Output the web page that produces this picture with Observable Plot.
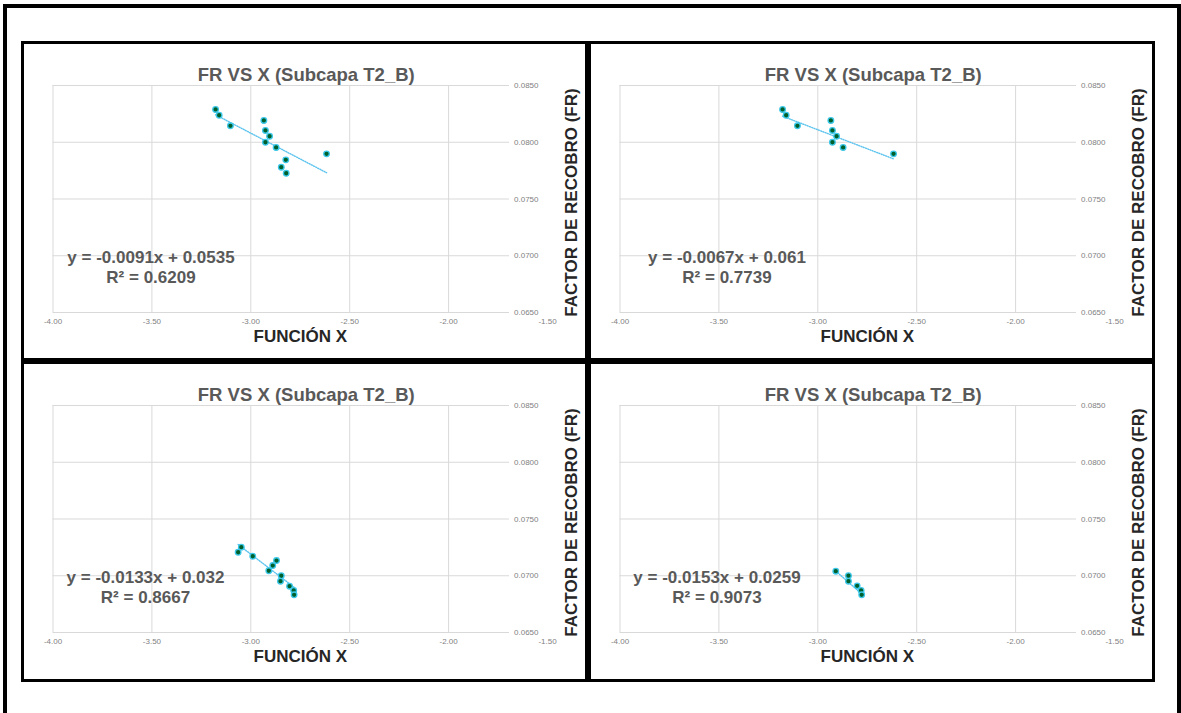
<!DOCTYPE html>
<html><head><meta charset="utf-8">
<script src="https://cdn.jsdelivr.net/npm/d3@7"></script>
<script src="https://cdn.jsdelivr.net/npm/@observablehq/plot@0.6"></script>
<style>
body{margin:0;background:#fff;}
#wrap{position:relative;width:1181px;height:713px;overflow:hidden;background:#fff;font-family:"Liberation Sans",Arial,sans-serif;}
.box{position:absolute;box-sizing:border-box;border:3px solid #000;pointer-events:none;z-index:2;}
.outer{border-width:4px;}
.chart{position:absolute;z-index:1;}
</style></head><body><div id="wrap"></div><script>
// ---- data ----
const titles = ["FR VS X (Subcapa T2_B)", "FR VS X (Subcapa T2_B)", "FR VS X (Subcapa T2_B)", "FR VS X (Subcapa T2_B)"];
const xLabel = "FUNCIÓN X";
const yLabel = "FACTOR DE RECOBRO (FR)";
const xTicks = [-4, -3.5, -3, -2.5, -2, -1.5];
const yTicks = [0.065, 0.07, 0.075, 0.08, 0.085];

const p1X = [-3.178, -3.160, -3.103, -2.934, -2.926, -2.905, -2.926, -2.872, -2.823, -2.846, -2.821, -2.617];
const p1Y = [0.08289, 0.08238, 0.08145, 0.08192, 0.08104, 0.08053, 0.08000, 0.07954, 0.07845, 0.07780, 0.07727, 0.07898];
const p2X = [-3.178, -3.160, -3.103, -2.934, -2.926, -2.905, -2.926, -2.872, -2.617];
const p2Y = [0.08289, 0.08238, 0.08145, 0.08192, 0.08104, 0.08053, 0.08000, 0.07954, 0.07898];
const p3X = [-3.048, -3.064, -2.990, -2.870, -2.889, -2.909, -2.846, -2.850, -2.804, -2.783, -2.781];
const p3Y = [0.07252, 0.07207, 0.07172, 0.07134, 0.07090, 0.07044, 0.07000, 0.06952, 0.06908, 0.06870, 0.06832];
const p4X = [-2.909, -2.845, -2.845, -2.801, -2.781, -2.778];
const p4Y = [0.07040, 0.07000, 0.06952, 0.06911, 0.06870, 0.06832];

const slopes = [-0.0091, -0.0067, -0.0133, -0.0153];
const intercepts = [0.0535, 0.061, 0.032, 0.0259];
const r2 = ["0.6209", "0.7739", "0.8667", "0.9073"];

// ---- layout ----
const xs = [p1X, p2X, p3X, p4X];
const ys = [p1Y, p2Y, p3Y, p4Y];
const boxes = [
  {left: 21, top: 41, w: 567, h: 320},
  {left: 588, top: 41, w: 567, h: 320},
  {left: 21, top: 361, w: 567, h: 321},
  {left: 588, top: 361, w: 567, h: 321}
];
const eqDx = [98, 107, 92.5, 97];
const font = "Liberation Sans, Arial, sans-serif";

const wrap = document.getElementById("wrap");
const outer = document.createElement("div");
outer.className = "box outer";
Object.assign(outer.style, {left: "3px", top: "4px", width: "1178px", height: "780px"});
wrap.appendChild(outer);

function panel(i) {
  const data = xs[i].map((x, j) => ({x, y: ys[i][j]}));
  const ext = d3.extent(xs[i]);
  const trend = ext.map(x => ({x, y: slopes[i] * x + intercepts[i]}));
  const eq = `y = ${slopes[i]}x + ${intercepts[i]}\nR² = ${r2[i]}`;
  return Plot.plot({
    width: 567, height: 320,
    marginLeft: 31.5, marginRight: 41, marginTop: 44, marginBottom: 49,
    style: {background: "transparent", fontFamily: font, overflow: "visible"},
    x: {domain: [-4, -1.5]},
    y: {domain: [0.065, 0.085]},
    marks: [
      Plot.gridX(xTicks.filter(t => t < -1.5), {stroke: "#d9d9d9", strokeOpacity: 1}),
      Plot.gridY(yTicks, {stroke: "#d9d9d9", strokeOpacity: 1, insetRight: 38}),
      Plot.axisX(xTicks, {tickSize: 0, tickPadding: 6, tickFormat: d => d.toFixed(2), fontSize: 8, color: "#7f7f7f", label: null}),
      Plot.axisY(yTicks, {anchor: "right", tickSize: 0, tickPadding: 0, textAnchor: "end", dx: -9, tickFormat: d => d.toFixed(4), fontSize: 8, color: "#7f7f7f", label: null}),
      Plot.line(trend, {x: "x", y: "y", stroke: "#5bc3ee", strokeWidth: 1.4, strokeDasharray: "1,1.4"}),
      Plot.dot(data, {x: "x", y: "y", r: 2.8, fill: "#00602c", stroke: "#3cc8ea", strokeWidth: 1.3}),
      Plot.text([titles[i]], {frameAnchor: "top", dx: 6, dy: -18, fontSize: 18.5, fontWeight: "bold", fill: "#595959"}),
      Plot.text([xLabel], {frameAnchor: "bottom", dy: 29, fontSize: 17, fontWeight: "bold", fill: "#262626"}),
      Plot.text([yLabel], {frameAnchor: "right", textAnchor: "middle", rotate: -90, dx: 24, dy: 3.5, fontSize: 17, fontWeight: "bold", fill: "#262626"}),
      Plot.text([eq], {frameAnchor: "bottom-left", textAnchor: "middle", dx: eqDx[i], dy: -29.5, fontSize: 17, fontWeight: "bold", fill: "#595959", lineHeight: 1.18})
    ]
  });
}

boxes.forEach((b, i) => {
  const holder = document.createElement("div");
  holder.className = "chart";
  Object.assign(holder.style, {left: b.left + "px", top: b.top + "px", width: b.w + "px", height: b.h + "px"});
  holder.appendChild(panel(i));
  wrap.appendChild(holder);
  const box = document.createElement("div");
  box.className = "box";
  Object.assign(box.style, {left: b.left + "px", top: b.top + "px", width: b.w + "px", height: b.h + "px"});
  wrap.appendChild(box);
});
</script></body></html>
